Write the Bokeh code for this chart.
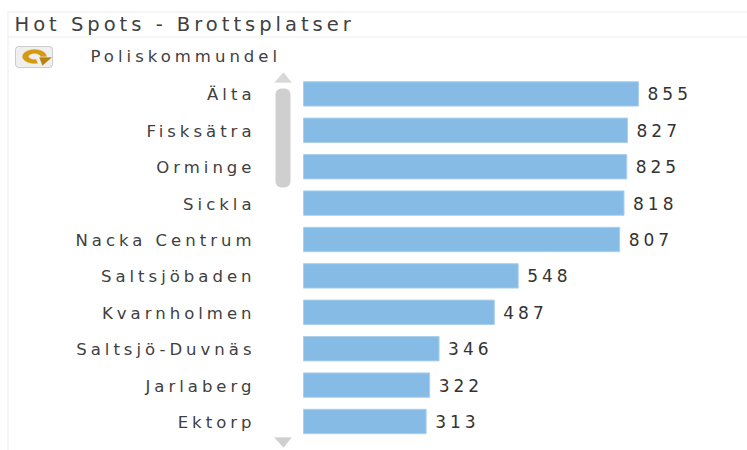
import math
from bokeh.plotting import figure
from bokeh.models import BoxAnnotation, PolyAnnotation, Label, Range1d, InlineStyleSheet
from bokeh.core.properties import value
from bokeh.embed import file_html
from bokeh.resources import INLINE

categories = ["Älta", "Fisksätra", "Orminge", "Sickla", "Nacka Centrum",
              "Saltsjöbaden", "Kvarnholmen", "Saltsjö-Duvnäs", "Jarlaberg", "Ektorp"]
values = [855, 827, 825, 818, 807, 548, 487, 346, 322, 313]
title_text = "Hot Spots - Brottsplatser"
field_label = "Poliskommundel"

TXT = "#404040"
FONT = "DejaVu Sans"
SPACING = 4
H = 450
rows = list(range(len(categories) - 1, -1, -1))

p = figure(width=747, height=H, output_backend="svg", toolbar_location=None,
           x_range=Range1d(-773.3, 1133.2), y_range=Range1d(-0.797, 11.566),
           min_border_left=0, min_border_right=0, min_border_top=0, min_border_bottom=0)
p.outline_line_color = None
p.grid.visible = False
p.xaxis.visible = False
p.yaxis.visible = False
p.stylesheets = [InlineStyleSheet(css=":host{letter-spacing:%gpx}" % SPACING)]

p.hbar(y=rows, right=values, left=0, height=0.67, fill_color="#85BBE5", line_color="#A9D0EE", line_width=1)
p.text(x=values, y=rows, text=[str(v) for v in values], x_offset=9, text_baseline="middle",
       text_font=value(FONT), text_font_size="17px", text_color="#333333")
p.text(x=[0] * len(categories), y=rows, text=categories, text_align="right", text_baseline="middle",
       x_offset=[-52 - (len(c) - 1) * SPACING for c in categories], y_offset=1,
       text_font=value(FONT), text_font_size="16.5px", text_color=TXT)

def box(l, t, r, b, **kw):
    p.add_layout(BoxAnnotation(left=l, right=r, top=H - t, bottom=H - b, left_units="screen", right_units="screen",
                               top_units="screen", bottom_units="screen", level="overlay", **kw))
def poly(xs, ys, color):
    p.add_layout(PolyAnnotation(xs=list(xs), ys=[H - y for y in ys], xs_units="screen", ys_units="screen",
                                fill_color=color, fill_alpha=1, line_color=color, level="overlay"))

line = dict(fill_color="#EDEDED", fill_alpha=1, line_color=None)
box(7, 11, 747, 12, **line)
box(7, 36, 747, 37, **line)
box(7, 11, 8, 450, **line)
# scrollbar
box(275, 88, 290, 187, fill_color="#CFCFCF", fill_alpha=1, line_color=None, border_radius=6)
poly([274, 283, 291], [82, 72, 82], "#D8D8D8")
poly([274, 283, 291], [437, 447, 437], "#CFCFCF")
# reload icon
box(15, 46, 52, 67, fill_color="#EFEFEF", fill_alpha=1, line_color="#6E6E6E", line_width=1, border_radius=3)
ang = [math.radians(a) for a in range(0, 300, 15)]
xo = [34 + 12 * math.cos(a) for a in ang] + [34 + 6 * math.cos(a) for a in ang[::-1]]
yo = [56 - 7 * math.sin(a) for a in ang] + [56 - 3 * math.sin(a) for a in ang[::-1]]
poly(xo, yo, "#D49A12")
poly([39, 51, 42], [57, 57, 65], "#B9820C")

p.add_layout(Label(x=14, y=H - 24, x_units="screen", y_units="screen", text=title_text, text_font=FONT,
                   text_font_size="19.5px", text_color=TXT, text_baseline="middle"))
p.add_layout(Label(x=90, y=H - 56, x_units="screen", y_units="screen", text=field_label, text_font=FONT,
                   text_font_size="16.5px", text_color=TXT, text_baseline="middle"))

open("out.html", "w").write(file_html(p, INLINE))
